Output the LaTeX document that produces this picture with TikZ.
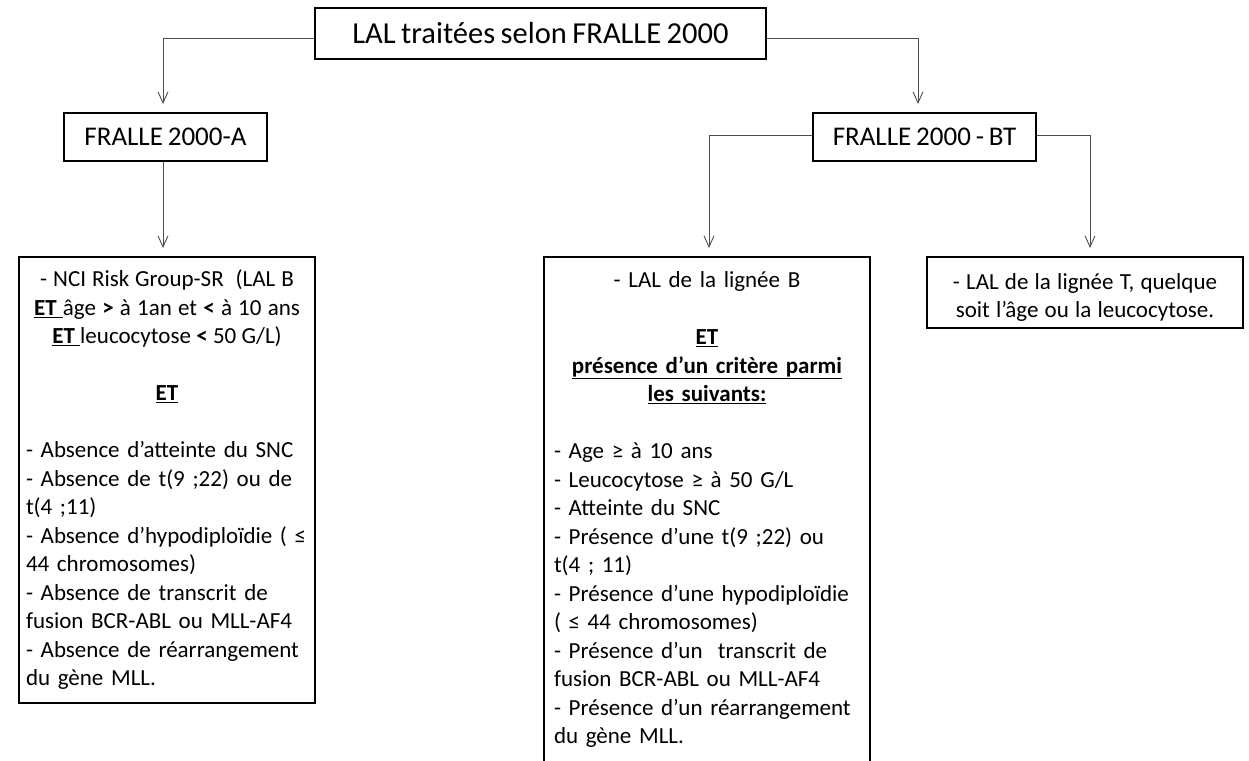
\documentclass[tikz,border=0pt]{standalone}
\usepackage{fontspec}
\setmainfont[WordSpace=0.8]{Carlito}
\usetikzlibrary{arrows.meta}
\setlength{\parindent}{0pt}
\setlength{\parskip}{0pt}
\begin{document}
\begin{tikzpicture}[x=1pt,y=-1pt,
  box/.style={draw=black, line width=2.2pt},
  conn/.style={draw=black!70, line width=0.9pt, -{Straight Barb[length=11pt,width=10pt]}, shorten >=8pt},
  body/.style={font=\fontsize{23}{28.5}\selectfont, align=left}]
\useasboundingbox (0,0) rectangle (1249,760);

\node[box, minimum width=451pt, minimum height=51pt, inner sep=0pt, font=\fontsize{30.5}{36}\selectfont] (top) at (540.5,33.5) {LAL traitées selon FRALLE 2000};
\node[box, minimum width=203pt, minimum height=48pt, inner sep=0pt, font=\fontsize{27}{32}\selectfont] (A) at (165.5,137) {FRALLE 2000-A};
\node[box, minimum width=223pt, minimum height=48pt, inner sep=0pt, font=\fontsize{27}{32}\selectfont] (BT) at (924.5,137) {FRALLE 2000 - BT};

\node[box, body, text width=282pt, inner xsep=7pt, inner ysep=0pt, minimum height=446pt] (sr) at (167,480) {%
{\centering {\spaceskip=0.26em - NCI Risk Group-SR~~(LAL B}\\
{\spaceskip=0.27em \underline{\textbf{ET}~}âge \textbf{>} à 1an et \textbf{<} à 10 ans}\\
{\spaceskip=0.23em \underline{\textbf{ET}~}leucocytose \textbf{<} 50 G/L)}\\[28.5pt]
\underline{\textbf{ET}}\par}
\vspace{28.5pt}
{\raggedright - Absence d’atteinte du SNC\\
- Absence de t(9 ;22) ou de\\
t(4 ;11)\\
- Absence d’hypodiploïdie ( ≤\\
44 chromosomes)\\
- Absence de transcrit de\\
fusion BCR-ABL ou MLL-AF4\\
- Absence de réarrangement\\
du gène MLL.\par}};

\node[box, body, text width=306pt, inner xsep=10pt, inner ysep=0pt, minimum height=505pt] (mid) at (707,509.5) {%
{\centering - LAL de la lignée B\\[28.5pt]
\underline{\textbf{ET}}\\
\underline{\textbf{présence d’un critère parmi}}\\
\underline{\textbf{les suivants:}}\par}
\vspace{28.5pt}
{\raggedright - Age ≥ à 10 ans\\
- Leucocytose ≥ à 50 G/L\\
- Atteinte du SNC\\
- Présence d’une t(9 ;22) ou\\
t(4 ; 11)\\
- Présence d’une hypodiploïdie\\
( ≤ 44 chromosomes)\\
- Présence d’un~~transcrit de\\
fusion BCR-ABL ou MLL-AF4\\
- Présence d’un réarrangement\\
du gène MLL.\par}};

\node[box, body, text width=300pt, inner xsep=8pt, inner ysep=0pt, minimum height=71pt] (rt) at (1085,292.5) {%
{\centering\spaceskip=0.27em\rule{0pt}{26pt}- LAL de la lignée T, quelque\\
soit l’âge ou la leucocytose.\par}};

\draw[conn] ([yshift=-4.5pt]top.west) -| ([xshift=-2.5pt]A.north);
\draw[conn] ([yshift=-4.5pt]top.east) -| ([xshift=-6.5pt]BT.north);
\draw[conn] ([xshift=-2.5pt]A.south) -- ([xshift=-2.5pt]A.south |- sr.north);
\draw[conn] ([yshift=2pt]BT.west) -| ([xshift=2pt]mid.north);
\draw[conn] ([yshift=2pt]BT.east) -| ([xshift=5pt]rt.north);
\end{tikzpicture}
\end{document}
